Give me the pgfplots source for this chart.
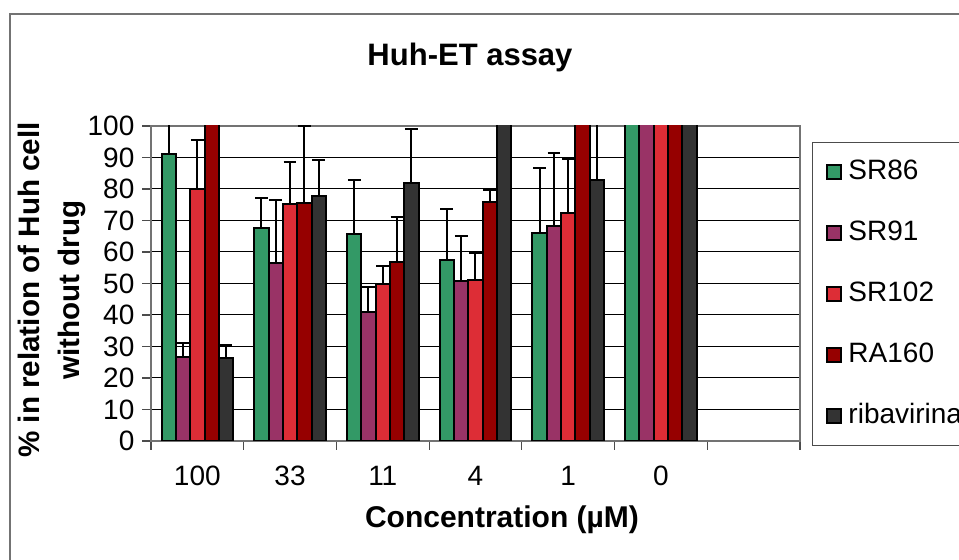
\documentclass[border=0pt]{standalone}
\usepackage{pgfplots}
\pgfplotsset{compat=1.18}
\usepackage{pgfplotstable}
\usepackage{fontspec}
\setmainfont{Liberation Sans}

\definecolor{csr86}{RGB}{51,153,102}
\definecolor{csr91}{RGB}{153,51,102}
\definecolor{csr102}{RGB}{221,45,54}
\definecolor{cra160}{RGB}{150,0,0}
\definecolor{cribav}{RGB}{51,51,51}

% x: 0=100uM, 1=33, 2=11, 3=4, 4=1, 5=0 ; values above 100 are clipped in the chart
\pgfplotstableread{
x y err
0 91.1 12
1 67.6 9.6
2 65.7 17.0
3 57.6 16.2
4 66.0 20.6
5 105 0
}\sreightysix
\pgfplotstableread{
x y err
0 26.6 4.6
1 56.6 20.0
2 40.8 8.2
3 50.7 14.3
4 68.3 23.1
5 105 0
}\srninetyone
\pgfplotstableread{
x y err
0 80.0 15.6
1 75.1 13.5
2 49.7 5.9
3 51.2 8.6
4 72.3 17.2
5 105 0
}\srhundredtwo
\pgfplotstableread{
x y err
0 105 0
1 75.6 24.4
2 56.9 14.1
3 75.9 3.7
4 105 0
5 105 0
}\rahundredsixty
\pgfplotstableread{
x y err
0 26.5 4.0
1 77.8 11.3
2 81.9 17.1
3 105 0
4 83.0 20
5 105 0
}\ribavirina

\begin{document}
\begin{tikzpicture}[x=1pt,y=1pt]
% chart area border (only top and left are inside the picture)
\draw[black!55, line width=0.75pt] (5,0) -- (5,273) -- (479.5,273);

\begin{axis}[
    at={(75.5pt,59.5pt)}, anchor=south west,
    scale only axis,
    width=324.5pt, height=157.5pt,
    ybar=0pt, bar width=7.15pt,
    xmin=-0.5, xmax=6.5,
    ymin=0, ymax=100,
    xtick={0,...,5},
    xticklabels={100,33,11,4,1,0},
    minor xtick={-0.5,0.5,...,6.5},
    major x tick style={draw=none},
    ytick={0,10,...,100},
    tick align=outside, tick pos=left,
    major tick length=4.5pt, minor tick length=4.5pt,
    tick style={black!70, line width=0.6pt},
    ymajorgrids=true,
    grid style={black, line width=0.5pt},
    axis line style={black!55, line width=0.75pt},
    /pgf/number format/assume math mode=true,
    ticklabel style={font=\fontsize{14}{16}\selectfont},
    xticklabel style={anchor=base, yshift=-18pt},
    yticklabel style={xshift=-0.3pt},
    every axis plot/.append style={draw=black, line width=1pt,
        /pgfplots/error bars/y dir=plus, /pgfplots/error bars/y explicit,
        /pgfplots/error bars/error bar style={black, line width=1pt},
        /pgfplots/error bars/error mark options={black, rotate=90, mark size=3.2pt, line width=1pt}},
    legend image code/.code={\draw[#1, draw=black, line width=1pt] (0pt,-3.5pt) rectangle (7pt,3.5pt);},
    legend style={at={(1.0185,0.950)}, anchor=north west,
        draw=black!70, line width=0.5pt, fill=white,
        font=\fontsize{14}{16}\selectfont,
        inner xsep=7pt, inner ysep=8pt,
        row sep=17pt, column sep=3pt,
        nodes={inner sep=0pt, text height=10.5pt, text depth=3pt}},
    legend cell align=left,
]
\addplot[fill=csr86] table[x=x, y=y, y error=err] {\sreightysix};
\addlegendentry{SR86}
\addplot[fill=csr91] table[x=x, y=y, y error=err] {\srninetyone};
\addlegendentry{SR91}
\addplot[fill=csr102] table[x=x, y=y, y error=err] {\srhundredtwo};
\addlegendentry{SR102}
\addplot[fill=cra160] table[x=x, y=y, y error=err] {\rahundredsixty};
\addlegendentry{RA160}
\addplot[fill=cribav] table[x=x, y=y, y error=err] {\ribavirina};
\addlegendentry{ribavirina}
\end{axis}

\node[font=\bfseries\fontsize{15.5}{18}\selectfont, anchor=base] at (235,247) {Huh-ET assay};
\node[font=\bfseries\fontsize{14.8}{20}\selectfont, rotate=90, align=center]
    at (26,135) {\% in relation of Huh cell\\without drug};
\node[font=\bfseries\fontsize{15}{18}\selectfont, anchor=base] at (251,16) {Concentration (µM)};

\pgfresetboundingbox
\useasboundingbox (0,0) rectangle (479.5,280);
\end{tikzpicture}
\end{document}
